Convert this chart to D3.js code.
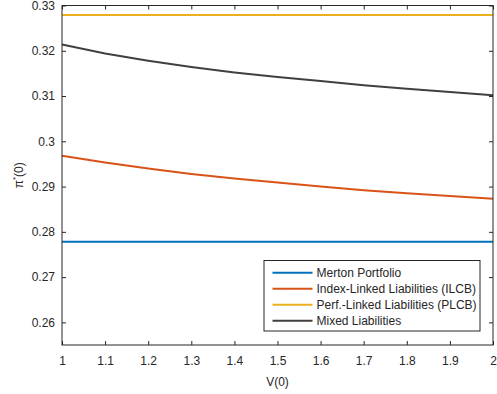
<!DOCTYPE html>
<html>
<head>
<meta charset="utf-8">
<script src="https://cdn.jsdelivr.net/npm/d3@7"></script>
<style>
  body { margin: 0; background: #fff; }
  text { font-family: "Liberation Sans", Arial, Helvetica, sans-serif; fill: #262626; }
</style>
</head>
<body>
<div id="chart"></div>
<script>
// wealth values V(0)
var v0 = [1.0, 1.1, 1.2, 1.3, 1.4, 1.5, 1.6, 1.7, 1.8, 1.9, 2.0];

// optimal allocation per strategy
var merton = [0.2778, 0.2778, 0.2778, 0.2778, 0.2778, 0.2778, 0.2778, 0.2778, 0.2778, 0.2778, 0.2778];
var ilcb   = [0.2968, 0.2953, 0.2940, 0.2928, 0.2918, 0.2909, 0.2900, 0.2892, 0.2885, 0.2879, 0.2873];
var plcb   = [0.3279, 0.3279, 0.3279, 0.3279, 0.3279, 0.3279, 0.3279, 0.3279, 0.3279, 0.3279, 0.3279];
var mixed  = [0.3214, 0.3194, 0.3178, 0.3164, 0.3152, 0.3142, 0.3133, 0.3124, 0.3116, 0.3109, 0.3102];

var seriesNames = ["Merton Portfolio", "Index-Linked Liabilities (ILCB)", "Perf.-Linked Liabilities (PLCB)", "Mixed Liabilities"];
var seriesData = [merton, ilcb, plcb, mixed];
var colors = ["#0072BD", "#D95319", "#EDB120", "#404040"];

var xTicks = [1, 1.1, 1.2, 1.3, 1.4, 1.5, 1.6, 1.7, 1.8, 1.9, 2];
var yTicks = [0.26, 0.27, 0.28, 0.29, 0.3, 0.31, 0.32, 0.33];

var width = 497;
var height = 394;
var plotLeft = 62, plotRight = 493, plotTop = 5.5, plotBottom = 345;

var x = d3.scaleLinear().domain([1, 2]).range([plotLeft, plotRight]);
var y = d3.scaleLinear().domain([0.255, 0.33]).range([plotBottom, plotTop]);

var svg = d3.select("#chart").append("svg")
    .attr("width", width)
    .attr("height", height);

var axisColor = "#262626";

// bottom / left axes with inward ticks
var gx = svg.append("g")
    .attr("transform", "translate(0," + plotBottom + ")")
    .call(d3.axisBottom(x).tickValues(xTicks).tickSize(-4).tickPadding(11)
        .tickFormat(function (d) { return String(+d.toFixed(1)); }));
var gy = svg.append("g")
    .attr("transform", "translate(" + plotLeft + ",0)")
    .call(d3.axisLeft(y).tickValues(yTicks).tickSize(-4).tickPadding(7)
        .tickFormat(function (d) { return String(+d.toFixed(2)); }));
// top / right ticks (no labels)
var gx2 = svg.append("g")
    .attr("transform", "translate(0," + plotTop + ")")
    .call(d3.axisTop(x).tickValues(xTicks).tickSize(-4).tickFormat(""));
var gy2 = svg.append("g")
    .attr("transform", "translate(" + plotRight + ",0)")
    .call(d3.axisRight(y).tickValues(yTicks).tickSize(-4).tickFormat(""));

[gx, gy, gx2, gy2].forEach(function (g) {
    g.select(".domain").remove();
    g.selectAll("line").attr("stroke", axisColor);
    g.selectAll("text").attr("font-size", 12).attr("fill", axisColor)
        .style("font-family", "'Liberation Sans', Arial, Helvetica, sans-serif");
});

// lines
var line = d3.line()
    .x(function (d, i) { return x(v0[i]); })
    .y(function (d) { return y(d); });

seriesData.forEach(function (s, i) {
    svg.append("path")
        .datum(s)
        .attr("d", line)
        .attr("fill", "none")
        .attr("stroke", colors[i])
        .attr("stroke-width", 2);
});

// box
svg.append("rect")
    .attr("x", plotLeft).attr("y", plotTop)
    .attr("width", plotRight - plotLeft).attr("height", plotBottom - plotTop)
    .attr("fill", "none")
    .attr("stroke", axisColor)
    .attr("stroke-width", 1);

// axis labels
svg.append("text")
    .attr("x", (plotLeft + plotRight) / 2)
    .attr("y", 386)
    .attr("text-anchor", "middle")
    .attr("font-size", 12)
    .text("V(0)");

var yl = svg.append("text")
    .attr("transform", "translate(23," + ((plotTop + plotBottom) / 2) + ") rotate(-90)")
    .attr("text-anchor", "middle")
    .attr("font-size", 12);
yl.append("tspan").text("π");
yl.append("tspan").attr("dy", -5).attr("font-size", 8).text("*");
yl.append("tspan").attr("dy", 5).text("(0)");

// legend
var lg = svg.append("g");
lg.append("rect")
    .attr("x", 264).attr("y", 260.5)
    .attr("width", 216).attr("height", 70.5)
    .attr("fill", "#fff")
    .attr("stroke", axisColor)
    .attr("stroke-width", 1);

seriesNames.forEach(function (name, i) {
    var yy = 272.7 + i * 16;
    lg.append("line")
        .attr("x1", 272.5).attr("x2", 312.5)
        .attr("y1", yy).attr("y2", yy)
        .attr("stroke", colors[i])
        .attr("stroke-width", 2);
    lg.append("text")
        .attr("x", 316.5)
        .attr("y", yy + 4.2)
        .attr("font-size", 12)
        .text(name);
});
</script>
</body>
</html>
